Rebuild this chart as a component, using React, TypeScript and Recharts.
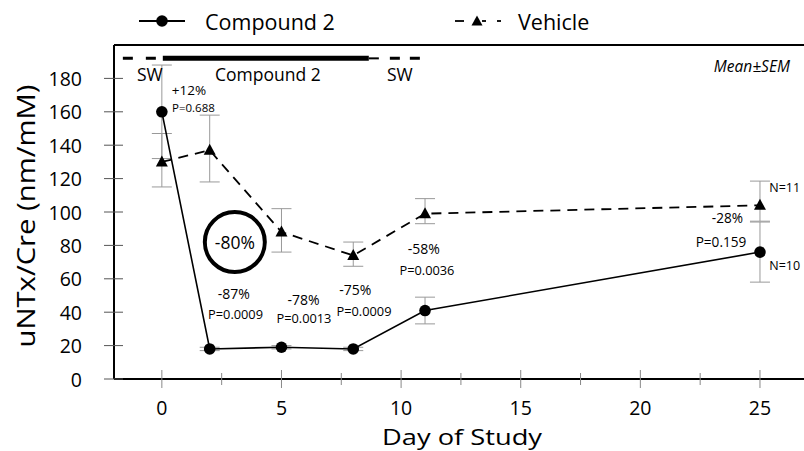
import React from 'react';
import { LineChart, Line, XAxis, YAxis, ErrorBar, ReferenceLine, ReferenceDot } from 'recharts';

const FONT = "'Open Sans', sans-serif";

// ---- data ----
const days = [0, 2, 5, 8, 11, 25];
const compoundMean = [160, 18, 19, 18, 41, 76];
const compoundErr: [number, number][] = [[28, 28], [1, 1], [1, 1], [1, 1], [8, 8], [18, 18]];
const vehicleMean = [130, 137, 88, 74, 99, 104];
const vehicleErr: [number, number][] = [[15, 17], [19, 21], [12, 14], [6.5, 8], [6, 9], [9.5, 14.5]];
const seriesNames = ['Compound 2', 'Vehicle'];

const yTicks = [0, 20, 40, 60, 80, 100, 120, 140, 160, 180];
const xTicks = [0, 2.5, 5, 7.5, 10, 12.5, 15, 17.5, 20, 22.5, 25];
const xLabelTicks = [0, 5, 10, 15, 20, 25];
const xDomain = [-2, 26.84];
const yDomain = [0, 200];

// treatment period bar (day ranges) at the top
const barLevel = 192;
const swBefore = [-1.63, 0.04];
const treatPeriod = [0.04, 8.65];
const treatTail = [8.65, 9.07];
const swAfter = [9.53, 10.83];

// annotation texts (day, value)
type Ann = { day: number; value: number; text: string; size: number; anchor?: string; italic?: boolean };
const annotations: Ann[] = [
  { day: 1.13, value: 173, text: '+12%', size: 13.5 },
  { day: 1.32, value: 162.6, text: 'P=0.688', size: 11.5 },
  { day: 3.05, value: 82, text: '-80%', size: 17.5 },
  { day: 3.01, value: 51.3, text: '-87%', size: 14 },
  { day: 3.08, value: 38.8, text: 'P=0.0009', size: 12.8 },
  { day: 5.92, value: 47.6, text: '-78%', size: 14 },
  { day: 5.94, value: 36.6, text: 'P=0.0013', size: 12.8 },
  { day: 8.09, value: 53.5, text: '-75%', size: 14 },
  { day: 8.45, value: 40.6, text: 'P=0.0009', size: 12.8 },
  { day: 10.95, value: 78, text: '-58%', size: 14 },
  { day: 11.08, value: 65, text: 'P=0.0036', size: 12.8 },
  { day: 23.64, value: 96.5, text: '-28%', size: 13.6 },
  { day: 23.37, value: 82.6, text: 'P=0.159', size: 13.6 },
  { day: 25.39, value: 114.4, text: 'N=11', size: 12.5, anchor: 'start' },
  { day: 25.39, value: 68, text: 'N=10', size: 12.5, anchor: 'start' },
  { day: -0.5, value: 182.7, text: 'SW', size: 17.5 },
  { day: 4.43, value: 182.7, text: 'Compound 2', size: 17.5 },
  { day: 9.95, value: 182.7, text: 'SW', size: 17.5 },
  { day: 26.25, value: 187.5, text: 'Mean±SEM', size: 15.5, anchor: 'end', italic: true },
];
const highlight = { day: 3.05, value: 82 };

const data = days.map((d, i) => ({
  day: d,
  compound: compoundMean[i],
  compoundErr: compoundErr[i],
  vehicle: vehicleMean[i],
  vehicleErr: vehicleErr[i],
}));

const XTick = (props: any) => {
  const { x, y, payload } = props;
  const major = xLabelTicks.includes(payload.value);
  return (
    <g>
      <line x1={x} x2={x} y1={y - (major ? 9 : 6)} y2={y + (major ? 9 : 6)} stroke="#888" strokeWidth={1} />
      {major && (
        <text x={x} y={y + 28} textAnchor="middle" dominantBaseline="central" fontSize={19.5} fontFamily={FONT} fill="#000">
          {payload.value}
        </text>
      )}
    </g>
  );
};

const YTick = (props: any) => {
  const { x, y, payload } = props;
  return (
    <g>
      <line x1={x - 10} x2={x + 9} y1={y} y2={y} stroke="#555" strokeWidth={1} />
      <text x={x - 32} y={y} textAnchor="end" dominantBaseline="central" fontSize={19.5} fontFamily={FONT} fill="#000">
        {payload.value}
      </text>
    </g>
  );
};

const YLabel = (props: any) => {
  const vb = props.viewBox || { x: 0, y: 45, width: 114, height: 334 };
  const cx = vb.x + 25;
  const cy = vb.y + vb.height / 2 + 4;
  return (
    <text
      x={cx}
      y={cy}
      transform={`rotate(-90 ${cx} ${cy})`}
      textAnchor="middle"
      dominantBaseline="central"
      fontSize={26}
      fontFamily={FONT}
      fill="#000"
      textLength={263}
      lengthAdjust="spacingAndGlyphs"
    >
      uNTx/Cre (nm/mM)
    </text>
  );
};

const XLabel = (props: any) => {
  const vb = props.viewBox || { x: 114, y: 379, width: 690, height: 72 };
  const cx = vb.x + vb.width / 2 + 3;
  return (
    <text x={cx} y={vb.y + 66} textAnchor="middle" fontSize={21} fontFamily={FONT} fill="#000" textLength={160} lengthAdjust="spacingAndGlyphs">
      Day of Study
    </text>
  );
};

const CircleDot = (props: any) => {
  const { cx, cy } = props;
  if (cx == null || cy == null) return null;
  return <circle cx={cx} cy={cy} r={5.8} fill="#000" />;
};

const TriDot = (props: any) => {
  const { cx, cy } = props;
  if (cx == null || cy == null) return null;
  return <path d={`M${cx},${cy - 6.5} L${cx + 6},${cy + 4.5} L${cx - 6},${cy + 4.5} Z`} fill="#000" />;
};

const annShape = (a: Ann) => (p: any) => (
  <text
    x={p.cx}
    y={p.cy}
    textAnchor={a.anchor || 'middle'}
    dominantBaseline="central"
    fontSize={a.size}
    fontStyle={a.italic ? 'italic' : 'normal'}
    fontFamily={FONT}
    fill="#000"
  >
    {a.text}
  </text>
);

const Legend = () => (
  <svg width={804} height={42} style={{ position: 'absolute', left: 0, top: 0 }}>
    <line x1={139} x2={185} y1={21} y2={21} stroke="#000" strokeWidth={1.8} />
    <circle cx={162} cy={21} r={5.8} fill="#000" />
    <text x={205} y={21} dominantBaseline="central" fontSize={21.5} fontFamily={FONT} fill="#000">
      {seriesNames[0]}
    </text>
    <line x1={455} x2={464} y1={21} y2={21} stroke="#000" strokeWidth={1.8} />
    <path d="M477,15.5 L482.5,25.5 L471.5,25.5 Z" fill="#000" />
    <line x1={482} x2={486} y1={21} y2={21} stroke="#000" strokeWidth={1.8} />
    <line x1={497} x2={501} y1={21} y2={21} stroke="#000" strokeWidth={1.8} />
    <text x={518} y={21} dominantBaseline="central" fontSize={21.5} fontFamily={FONT} fill="#000">
      {seriesNames[1]}
    </text>
  </svg>
);

export default function App() {
  return (
    <div style={{ position: 'absolute', left: 0, top: 0, width: 804, height: 451, background: '#fff' }}>
      <Legend />
      <LineChart width={804} height={451} data={data} margin={{ top: 45, right: 0, bottom: 0, left: 0 }}>
        <XAxis
          dataKey="day"
          type="number"
          domain={xDomain}
          ticks={xTicks}
          tick={<XTick />}
          tickLine={false}
          tickSize={0}
          tickMargin={0}
          axisLine={{ stroke: '#000', strokeWidth: 2 }}
          height={72}
          allowDataOverflow
          interval={0}
          label={<XLabel />}
        />
        <YAxis
          type="number"
          domain={yDomain}
          ticks={yTicks}
          tick={<YTick />}
          tickLine={false}
          tickSize={0}
          tickMargin={0}
          axisLine={{ stroke: '#000', strokeWidth: 2 }}
          width={114}
          allowDataOverflow
          interval={0}
          label={<YLabel />}
        />
        <ReferenceLine y={200} stroke="#000" strokeWidth={2} />
        <ReferenceLine segment={[{ x: swBefore[0], y: barLevel }, { x: swBefore[1], y: barLevel }]} stroke="#000" strokeWidth={3} strokeDasharray="10 13" />
        <ReferenceLine segment={[{ x: treatPeriod[0], y: barLevel }, { x: treatPeriod[1], y: barLevel }]} stroke="#000" strokeWidth={5} />
        <ReferenceLine segment={[{ x: treatTail[0], y: barLevel }, { x: treatTail[1], y: barLevel }]} stroke="#000" strokeWidth={2} />
        <ReferenceLine segment={[{ x: swAfter[0], y: barLevel }, { x: swAfter[1], y: barLevel }]} stroke="#000" strokeWidth={3} strokeDasharray="10 10" />
        <Line
          dataKey="vehicle"
          name={seriesNames[1]}
          stroke="#000"
          strokeWidth={1.8}
          strokeDasharray="10 7"
          dot={<TriDot />}
          isAnimationActive={false}
        >
          <ErrorBar dataKey="vehicleErr" width={10} stroke="#999" strokeWidth={1} direction="y" />
        </Line>
        <Line
          dataKey="compound"
          name={seriesNames[0]}
          stroke="#000"
          strokeWidth={1.6}
          dot={<CircleDot />}
          isAnimationActive={false}
        >
          <ErrorBar dataKey="compoundErr" width={10} stroke="#999" strokeWidth={1} direction="y" />
        </Line>
        <ReferenceDot x={highlight.day} y={highlight.value} r={30} fill="none" stroke="#000" strokeWidth={4} />
        {annotations.map((a, i) => (
          <ReferenceDot key={i} x={a.day} y={a.value} r={0} shape={annShape(a)} />
        ))}
      </LineChart>
    </div>
  );
}
